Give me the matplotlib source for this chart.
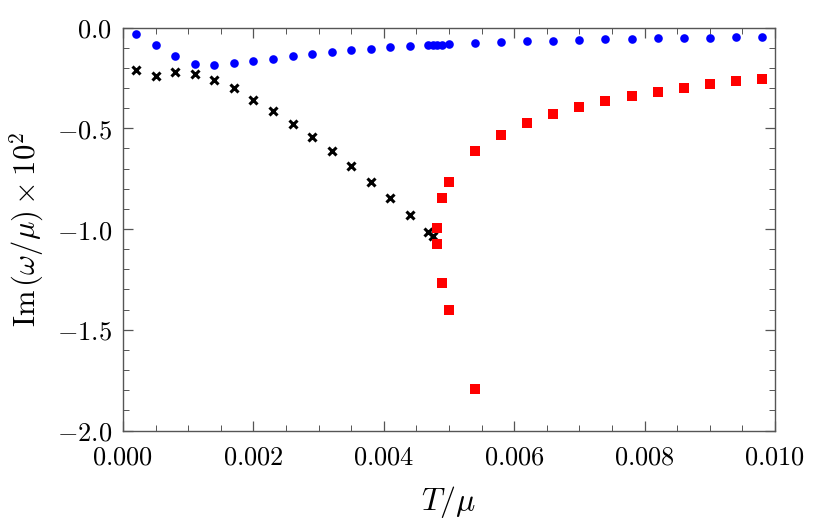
import matplotlib
matplotlib.use('Agg')
import matplotlib.pyplot as plt
from matplotlib.ticker import MultipleLocator, FuncFormatter

plt.rcParams['mathtext.fontset'] = 'cm'

# blue circles
blue_T = [0.0002, 0.0005, 0.0008, 0.0011, 0.0014, 0.0017, 0.0020, 0.0023, 0.0026,
          0.0029, 0.0032, 0.0035, 0.0038, 0.0041, 0.0044, 0.00468, 0.00476,
          0.00482, 0.00489, 0.0050, 0.0054, 0.0058, 0.0062, 0.0066, 0.0070,
          0.0074, 0.0078, 0.0082, 0.0086, 0.0090, 0.0094, 0.0098]
blue_im = [-0.032, -0.086, -0.142, -0.181, -0.186, -0.177, -0.166, -0.156, -0.141,
           -0.131, -0.121, -0.113, -0.106, -0.096, -0.092, -0.086, -0.086,
           -0.085, -0.085, -0.083, -0.076, -0.073, -0.068, -0.065, -0.063,
           -0.058, -0.055, -0.053, -0.050, -0.050, -0.048, -0.045]

# black crosses
black_T = [0.0002, 0.0005, 0.0008, 0.0011, 0.0014, 0.0017, 0.0020, 0.0023, 0.0026,
           0.0029, 0.0032, 0.0035, 0.0038, 0.0041, 0.0044, 0.00468, 0.00476]
black_im = [-0.210, -0.239, -0.220, -0.232, -0.262, -0.301, -0.359, -0.414, -0.477,
            -0.541, -0.612, -0.688, -0.768, -0.847, -0.932, -1.016, -1.034]

# red squares
red_T = [0.00481, 0.00481, 0.00489, 0.00489, 0.0050, 0.0050, 0.0054, 0.0054,
         0.0058, 0.0062, 0.0066, 0.0070, 0.0074, 0.0078, 0.0082, 0.0086,
         0.0090, 0.0094, 0.0098]
red_im = [-0.993, -1.072, -0.844, -1.269, -0.768, -1.403, -0.614, -1.794,
          -0.531, -0.472, -0.427, -0.392, -0.364, -0.339, -0.318, -0.300,
          -0.281, -0.266, -0.255]

fig = plt.figure(figsize=(8.3, 5.29), dpi=100)
ax = fig.add_axes([0.1482, 0.1862, 0.7855, 0.7616])

ax.plot(blue_T, blue_im, 'o', color='#0000ff', markersize=6.2, markeredgewidth=0)
ax.plot(black_T, black_im, 'x', color='black', markersize=6.2, markeredgewidth=2.2)
ax.plot(red_T, red_im, 's', color='#ff0000', markersize=7.0, markeredgewidth=0)

ax.set_xlim(0, 0.010)
ax.set_ylim(-2.0, 0.0)

ax.xaxis.set_major_locator(MultipleLocator(0.002))
ax.xaxis.set_minor_locator(MultipleLocator(0.0005))
ax.yaxis.set_major_locator(MultipleLocator(0.5))
ax.yaxis.set_minor_locator(MultipleLocator(0.1))
ax.xaxis.set_major_formatter(FuncFormatter(lambda v, p: r'$%.3f$' % v))
ax.yaxis.set_major_formatter(FuncFormatter(lambda v, p: r'$%.1f$' % v))

frame_col = '#555555'
for s in ax.spines.values():
    s.set_color(frame_col)
    s.set_linewidth(1.0)
ax.tick_params(which='both', direction='in', top=True, right=True,
               color=frame_col, labelsize=19)
ax.tick_params(which='major', length=7, width=0.9)
ax.tick_params(which='minor', length=4, width=0.7)
ax.tick_params(axis='x', pad=10)
ax.tick_params(axis='y', pad=8)

ax.set_xlabel(r'$T/\mu$', fontsize=23, labelpad=10)
ax.set_ylabel(r'$\mathrm{Im}\,(\omega/\mu)\times 10^2$', fontsize=22, labelpad=8)

fig.savefig('out.png', dpi=100)
